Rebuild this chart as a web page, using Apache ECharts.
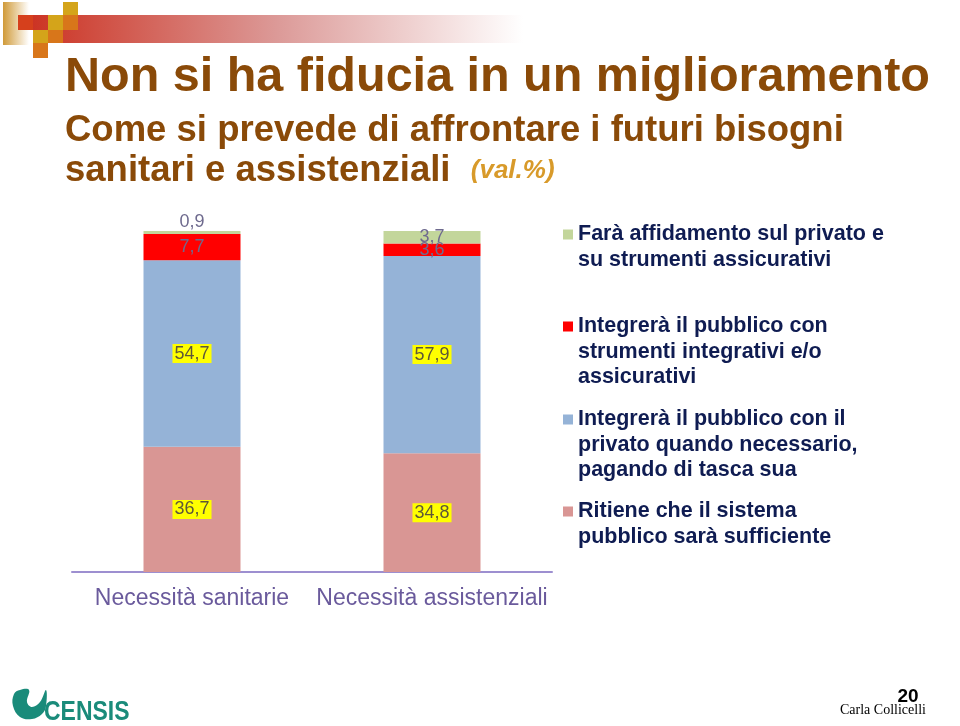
<!DOCTYPE html>
<html>
<head>
<meta charset="utf-8">
<script src="https://cdn.jsdelivr.net/npm/echarts@6/dist/echarts.min.js"></script>
<style>
html,body{margin:0;padding:0;background:#fff;}
#chart{width:960px;height:726px;}
</style>
</head>
<body>
<div id="chart"></div>
<script>
var categories = ['Necessità sanitarie', 'Necessità assistenziali'];
var seriesNames = [
  'Ritiene che il sistema pubblico sarà sufficiente',
  'Integrerà il pubblico con il privato quando necessario, pagando di tasca sua',
  'Integrerà il pubblico con strumenti integrativi e/o assicurativi',
  'Farà affidamento sul privato e su strumenti assicurativi'
];
var legendLines = [
  'Ritiene che il sistema\npubblico sarà sufficiente',
  'Integrerà il pubblico con il\nprivato quando necessario,\npagando di tasca sua',
  'Integrerà il pubblico con\nstrumenti integrativi e/o\nassicurativi',
  'Farà affidamento sul privato e\nsu strumenti assicurativi'
];
var sufficiente = [36.7, 34.8];
var tascaSua = [54.7, 57.9];
var integrativi = [7.7, 3.6];
var affidamento = [0.9, 3.7];

var colors = ['#d99694', '#95b3d7', '#ff0000', '#c3d69b'];
var values = [sufficiente, tascaSua, integrativi, affidamento];

function fmt(v) { return String(v).replace('.', ','); }

var yellowLabel = {
  show: true, position: 'inside', fontFamily: 'Arial, Liberation Sans, sans-serif',
  fontSize: 18, color: '#5e5838', backgroundColor: '#ffff00', padding: [1, 2, 0, 2],
  formatter: function (p) { return fmt(p.value); }
};
var plainLabel = {
  show: true, position: 'inside', fontFamily: 'Arial, Liberation Sans, sans-serif',
  fontSize: 18, color: '#6e6a8e',
  formatter: function (p) { return fmt(p.value); }
};

var series = values.map(function (arr, i) {
  var lab = i < 2 ? yellowLabel : plainLabel;
  return {
    name: seriesNames[i], type: 'bar', stack: 'tot', barWidth: 97,
    itemStyle: { color: colors[i] },
    label: lab,
    data: arr.map(function (v) {
      if (i === 3 && v < 2) {
        return { value: v, label: { position: 'top', distance: 0 } };
      }
      return v;
    })
  };
});

var LH = 25.3;
var firstLine = { 3: 234.5, 2: 326.5, 1: 419.5, 0: 511.5 };
function iconPath(n) {
  var H = n * LH, c = LH / 2;
  return 'path://M0,0 L0,0 Z M0,' + (c - 5) + ' L10,' + (c - 5) + ' L10,' + (c + 5) + ' L0,' + (c + 5) + ' Z M0,' + H + ' L0,' + H + ' Z';
}
var legends = [3, 2, 1, 0].map(function (i) {
  var n = legendLines[i].split('\n').length;
  return {
    data: [seriesNames[i]], left: 563, top: firstLine[i] - LH / 2,
    orient: 'vertical', padding: 0, itemWidth: 10, itemHeight: n * LH,
    icon: iconPath(n), selectedMode: false,
    formatter: function () { return legendLines[i]; },
    textStyle: {
      fontFamily: 'Arial, Liberation Sans, sans-serif', fontSize: 21.5, fontWeight: 'bold',
      color: '#0f1c52', lineHeight: LH
    }
  };
});

var chart = echarts.init(document.getElementById('chart'), null, { renderer: 'canvas' });
chart.setOption({
  backgroundColor: '#ffffff',
  animation: false,
  title: [
    {
      text: 'Non si ha fiducia in un miglioramento', left: 60, top: 48,
      textStyle: { fontFamily: 'Arial, Liberation Sans, sans-serif', fontSize: 48.5, fontWeight: 'bold', color: '#8a4a08' }
    },
    {
      text: 'Come si prevede di affrontare i futuri bisogni\nsanitari e assistenziali  {v|(val.%)}',
      left: 60, top: 106,
      textStyle: {
        fontFamily: 'Arial, Liberation Sans, sans-serif', fontSize: 36.5, fontWeight: 'bold',
        color: '#8a4a08', lineHeight: 40,
        rich: { v: { fontFamily: 'Arial, Liberation Sans, sans-serif', fontSize: 26, fontStyle: 'italic', fontWeight: 'bold', color: '#d89a2a', lineHeight: 40 } }
      }
    }
  ],
  legend: legends,
  grid: { left: 72, right: 408, top: 231, bottom: 154, containLabel: false },
  xAxis: {
    type: 'category', data: categories,
    axisLine: { lineStyle: { color: '#9d8fd0', width: 2 } },
    axisTick: { show: false },
    axisLabel: { interval: 0, hideOverlap: false, fontFamily: 'Arial, Liberation Sans, sans-serif', fontSize: 23, color: '#6a5a9c', margin: 15 }
  },
  yAxis: { type: 'value', min: 0, max: 100, show: false, splitLine: { show: false } },
  series: series,
  graphic: [
    { type: 'rect', shape: { x: 33, y: 15, width: 490, height: 28 }, style: { fill: new echarts.graphic.LinearGradient(0, 0, 1, 0, [{ offset: 0, color: '#cc3424' }, { offset: 0.5, color: '#dc9a98' }, { offset: 1, color: '#ffffff' }]) } },
    { type: 'rect', shape: { x: 3, y: 2, width: 26, height: 43 }, style: { fill: new echarts.graphic.LinearGradient(0, 0, 1, 0, [{ offset: 0, color: '#d09a38' }, { offset: 1, color: '#ffffff' }]) } },
    { type: 'rect', shape: { x: 18, y: 15, width: 15, height: 15 }, style: { fill: '#d6401c' } },
    { type: 'rect', shape: { x: 63, y: 2, width: 15, height: 13 }, style: { fill: '#d4a41a' } },
    { type: 'rect', shape: { x: 48, y: 15, width: 15, height: 15 }, style: { fill: '#d4a41a' } },
    { type: 'rect', shape: { x: 63, y: 15, width: 15, height: 15 }, style: { fill: '#d8761a' } },
    { type: 'rect', shape: { x: 33, y: 30, width: 15, height: 13 }, style: { fill: '#d4a41a' } },
    { type: 'rect', shape: { x: 48, y: 30, width: 15, height: 13 }, style: { fill: '#d8761a' } },
    { type: 'rect', shape: { x: 33, y: 43, width: 15, height: 15 }, style: { fill: '#d8761a' } },
    { type: 'polygon', shape: { smooth: 0.4, points: [[14, 694], [13, 706], [20, 717], [32, 719], [42, 714], [46, 706], [46, 690], [40, 702], [32, 707], [27, 702], [29, 690], [20, 690]] }, style: { fill: '#1a8b7a' } },
    { type: 'text', x: 44, y: 712, scaleX: 0.82, style: { text: 'CENSIS', fontFamily: 'Arial, Liberation Sans, sans-serif', fontSize: 28, fontWeight: 'bold', fill: '#1a8b7a', verticalAlign: 'middle', align: 'left' } },
    { type: 'text', x: 908, y: 697, style: { text: '20', fontFamily: 'Arial, Liberation Sans, sans-serif', fontSize: 19, fontWeight: 'bold', fill: '#000000', align: 'center', verticalAlign: 'middle' } },
    { type: 'text', x: 840, y: 710, style: { text: 'Carla Collicelli', fontFamily: 'Liberation Serif, Times New Roman, serif', fontSize: 14, fill: '#000000', align: 'left', verticalAlign: 'middle' } }
  ]
});
</script>
</body>
</html>
